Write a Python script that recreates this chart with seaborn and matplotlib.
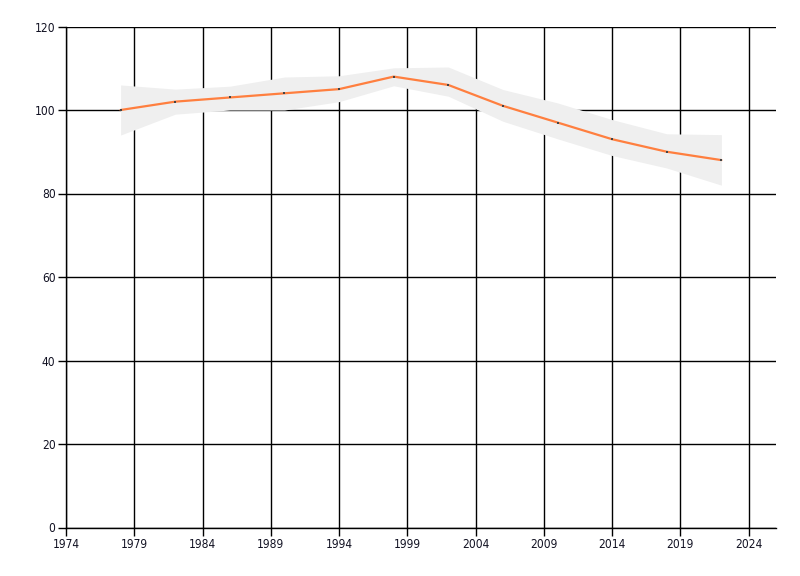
import matplotlib
matplotlib.use("Agg")
import matplotlib.pyplot as plt
import seaborn as sns
import pandas as pd
from matplotlib import font_manager

years = [1978, 1982, 1986, 1990, 1994, 1998, 2002, 2006, 2010, 2014, 2018, 2022]
values = [100, 102, 103, 104, 105, 108, 106, 101, 97, 93, 90, 88]
upper = [106, 105, 105.7, 107.9, 108.2, 110.1, 110.3, 104.9, 101.7, 97.7, 94.3, 94.1]
lower = [94, 99, 100, 100, 102, 105.8, 103.3, 97.3, 93.1, 89.1, 86.1, 82]
xticks = [1974, 1979, 1984, 1989, 1994, 1999, 2004, 2009, 2014, 2019, 2024]
yticks = [0, 20, 40, 60, 80, 100, 120]

df = pd.DataFrame({"year": years, "value": values, "upper": upper, "lower": lower})

sns.set_style("white")
condensed = [f for f in font_manager.fontManager.ttflist
             if f.name == 'DejaVu Sans' and f.stretch in ('condensed', 'semi-condensed')
             and f.weight in (400, 'normal') and f.style == 'normal']
plt.rcParams['font.family'] = ['Liberation Sans', 'DejaVu Sans']
label_kw = dict(fontsize=8.8)
if condensed:
    plt.rcParams['font.family'] = ['DejaVu Sans']
    label_kw = dict(fontsize=8.6, fontstretch='condensed')

fig = plt.figure(figsize=(8, 5.76), dpi=100)
ax = fig.add_axes([66/800, 1-527.5/576, (776-66)/800, (527.5-26.5)/576])

ax.fill_between(df["year"], df["lower"], df["upper"], color="#EFEFEF", linewidth=0, zorder=2)
sns.lineplot(data=df, x="year", y="value", ax=ax, color="#FF7F3F", linewidth=1.6, zorder=3)
sns.scatterplot(data=df, x="year", y="value", ax=ax, color="#444444", s=4, marker="s",
                linewidth=0, zorder=4)

ax.set_xlim(1974, 2026)
ax.set_ylim(0, 120)
ax.set_xticks(xticks)
ax.set_yticks(yticks)
ax.set_xticklabels([str(t) for t in xticks], color="#111122", **label_kw)
ax.set_yticklabels([str(t) for t in yticks], color="#111122", **label_kw)
ax.set_xlabel("")
ax.set_ylabel("")
ax.grid(True, color="black", linewidth=1.0, zorder=1)
ax.set_axisbelow(True)
for s in ["top", "right"]:
    ax.spines[s].set_visible(False)
for s in ["left", "bottom"]:
    ax.spines[s].set_color("black")
    ax.spines[s].set_linewidth(1.0)
ax.tick_params(axis="both", which="major", direction="out", length=6, width=1,
               color="black", pad=1.5, left=True, bottom=True)

fig.savefig("out.png", dpi=100)
